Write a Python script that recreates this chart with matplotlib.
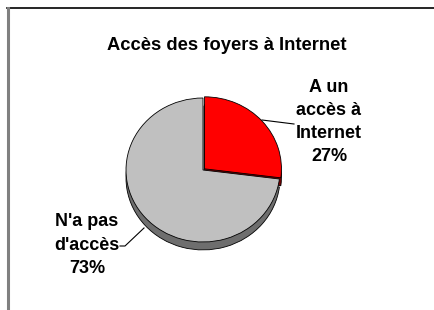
import matplotlib
matplotlib.use("Agg")
import matplotlib.pyplot as plt

categories = ["A un\naccès à\nInternet", "N'a pas\nd'accès"]
shares = [27, 73]
top_colors = ["#FF0000", "#C0C0C0"]
side_colors = ["#7A0000", "#6E6E6E"]
title = "Accès des foyers à Internet"

plt.rcParams['font.family'] = ['Liberation Sans', 'DejaVu Sans']

fig = plt.figure(figsize=(4.35, 3.10), dpi=100)

# frame of the chart area (partly cut off at right and bottom)
frame = fig.add_axes([0, 0, 1, 1])
frame.set_xlim(0, 435)
frame.set_ylim(310, 0)
frame.axis('off')
frame.plot([7, 435], [8, 8], color='black', lw=1.2)
frame.plot([8, 8], [8, 310], color='#808080', lw=2.2)

fig.text(227 / 435, 1 - 46 / 310, title, ha='center', va='center',
         fontsize=13.2, fontweight='bold')

# pie: slightly flattened ellipse, 154 x 144 px
ax = fig.add_axes([126 / 435, (310 - 242) / 310, 154 / 435, 144 / 310])
explode = [0.025, 0]
depth = 0.11

ax.pie(shares, colors=side_colors, startangle=90, counterclock=False,
       explode=explode, center=(0, -depth),
       wedgeprops=dict(edgecolor='black', linewidth=0.6))
ax.pie(shares, colors=top_colors, startangle=90, counterclock=False,
       explode=explode,
       wedgeprops=dict(edgecolor='black', linewidth=0.6))
ax.set_aspect('auto')
ax.set_xlim(-1, 1)
ax.set_ylim(-1, 1)
ax.axis('off')


def px(x, y):
    return (x - 203) / 77, (170 - y) / 72


# leader lines
xa, ya = px(262, 120)
xb, yb = px(294, 124)
ax.plot([xa, xb], [ya, yb], color='black', lw=0.8, clip_on=False)
x1, y1 = px(144, 228)
x2, y2 = px(125, 246)
x3, y3 = px(120, 246)
ax.plot([x1, x2, x3], [y1, y2, y3], color='black', lw=0.8, clip_on=False)

labels = [f"{c}\n{v}%" for c, v in zip(categories, shares)]
fig.text(329 / 435, 1 - 122 / 310, labels[0], ha='center', va='center',
         fontsize=13, fontweight='bold', linespacing=1.48)
fig.text(87 / 435, 1 - 245 / 310, labels[1], ha='center', va='center',
         fontsize=13, fontweight='bold', linespacing=1.48)

fig.savefig("out.png", dpi=100)
